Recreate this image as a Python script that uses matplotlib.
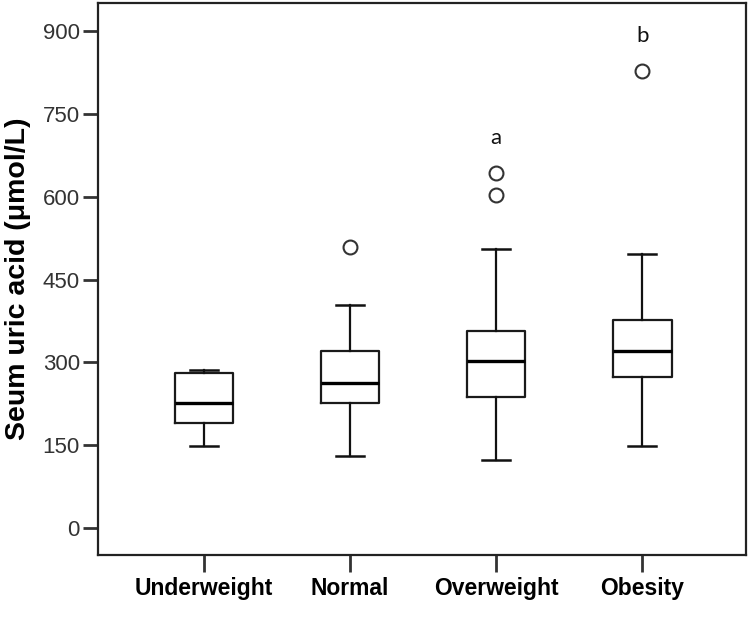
import matplotlib
matplotlib.use("Agg")
import matplotlib.pyplot as plt

categories = ["Underweight", "Normal", "Overweight", "Obesity"]
whis_lo = [148, 131, 123, 148]
q1 = [191, 227, 237, 274]
medians = [227, 262, 303, 321]
q3 = [280, 321, 357, 377]
whis_hi = [286, 403, 506, 496]
fliers = [[], [509], [603, 643], [827]]
annotations = {"Overweight": ("a", 706), "Obesity": ("b", 892)}
yticks = [0, 150, 300, 450, 600, 750, 900]

fig = plt.figure(figsize=(7.5, 6.22), dpi=100)
ax = fig.add_axes([98/750, 67/622, 648/750, 552/622])

stats = []
for i, c in enumerate(categories):
    stats.append(dict(label=c, med=medians[i], q1=q1[i], q3=q3[i],
                      whislo=whis_lo[i], whishi=whis_hi[i], fliers=fliers[i]))

positions = list(range(1, len(categories) + 1))
ax.bxp(stats, positions=positions, widths=0.40, capwidths=0.19,
       boxprops=dict(color="#1a1a1a", linewidth=1.6),
       whiskerprops=dict(color="#111111", linewidth=1.6),
       capprops=dict(color="#111111", linewidth=1.8),
       medianprops=dict(color="#000000", linewidth=2.4),
       flierprops=dict(marker="o", markersize=10, markerfacecolor="white",
                       markeredgecolor="#333333", markeredgewidth=1.5, linestyle="none"))

for i, c in enumerate(categories):
    if c in annotations:
        t, v = annotations[c]
        ax.text(positions[i], v, t, ha="center", va="center", fontsize=16,
                family=["Lato", "DejaVu Sans"], color="#111111")

ax.set_xlim(0.274, 4.71)
ax.set_ylim(-49, 951)
ax.set_yticks(yticks)
ax.set_yticklabels([str(v) for v in yticks], fontsize=16,
                   family=["Liberation Sans"], color="#333333")
ax.set_xticks(positions)
ax.set_xticklabels(categories, fontsize=16.5, fontweight="bold",
                   family=["Liberation Sans"], color="#000000")
ax.tick_params(axis="y", direction="out", length=11, width=2, color="#333333", pad=2)
ax.tick_params(axis="x", direction="out", length=12, width=2, color="#333333", pad=4)
for s in ax.spines.values():
    s.set_linewidth(1.6)
    s.set_color("#222222")
ax.set_ylabel("Seum uric acid (μmol/L)", fontsize=20.5, fontweight="bold",
              family=["Liberation Sans", "DejaVu Sans"])
ax.yaxis.set_label_coords(-67/648, 0.5)

fig.savefig("out.png", dpi=100)
